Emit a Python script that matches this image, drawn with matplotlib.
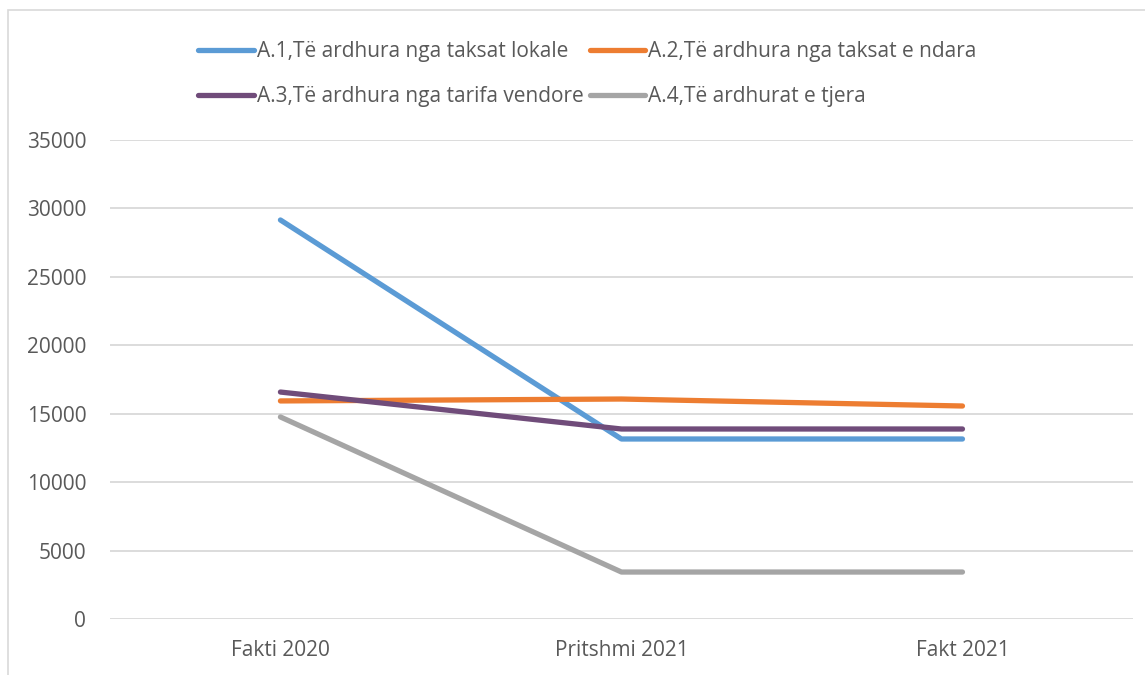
import matplotlib
matplotlib.use('Agg')
import matplotlib.pyplot as plt
from matplotlib.patches import Rectangle

# data
categories = ['Fakti 2020', 'Pritshmi 2021', 'Fakt 2021']
a1_local = [29150, 13150, 13150]
a2_shared = [15930, 16070, 15560]
a3_tariffs = [16580, 13880, 13880]
a4_other = [14760, 3430, 3430]

labels = ['A.1,Të ardhura nga taksat lokale',
          'A.2,Të ardhura nga taksat e ndara',
          'A.3,Të ardhura nga tarifa vendore',
          'A.4,Të ardhurat e tjera']
colors = ['#5B9BD5', '#ED7D31', '#704C7A', '#A5A5A5']
yticks = [0, 5000, 10000, 15000, 20000, 25000, 30000, 35000]

plt.rcParams['font.family'] = ['Open Sans', 'DejaVu Sans']
txt = '#595959'
fs = 15

fig = plt.figure(figsize=(11.45, 6.75), dpi=100)
ax = fig.add_axes([0.096, 0.083, 0.8935, 0.7097])

# outer chart border
fig.patches.append(Rectangle((8 / 1145, -0.05), 1.1, 1 - 10 / 675 + 0.05,
                             transform=fig.transFigure, fill=False,
                             edgecolor='#D9D9D9', lw=1.2))

x = range(len(categories))
series = [a1_local, a2_shared, a3_tariffs, a4_other]
handles = []
for vals, lab, col in zip(series, labels, colors):
    h, = ax.plot(x, vals, color=col, lw=3.8, solid_capstyle='round',
                 solid_joinstyle='round', label=lab)
    handles.append(h)

ax.set_xlim(-0.5, 2.5)
ax.set_ylim(0, 35000)
ax.set_yticks(yticks)
ax.set_yticklabels([str(v) for v in yticks])
ax.set_xticks(list(x))
ax.set_xticklabels(categories)
ax.grid(axis='y', color='#D9D9D9', lw=1.3)
ax.set_axisbelow(True)
for s in ax.spines.values():
    s.set_visible(False)
ax.tick_params(length=0, labelsize=fs, colors=txt)
ax.tick_params(axis='x', pad=15)
ax.tick_params(axis='y', pad=17)

# legend fills row by row in the reference, matplotlib fills by column
order = [0, 2, 1, 3]
leg = fig.legend(handles=[handles[i] for i in order], ncol=2, loc='upper left',
                 bbox_to_anchor=(188 / 1145, 1 - 31 / 675),
                 frameon=False, fontsize=fs, handlelength=2.65, borderpad=0,
                 handletextpad=0.15, columnspacing=0.3, labelspacing=1.15)
for t in leg.get_texts():
    t.set_color(txt)

plt.savefig('out.png', dpi=100)
